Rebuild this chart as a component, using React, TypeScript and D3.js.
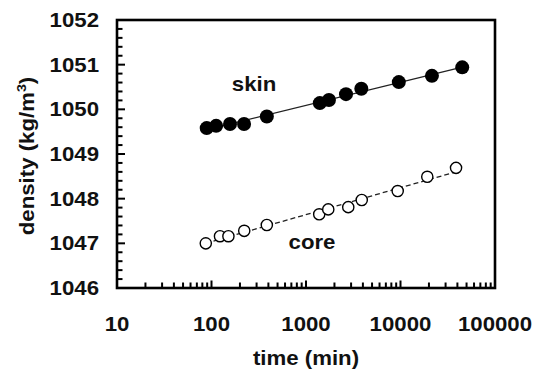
import React from "react";
import * as d3 from "d3";

const skinTime = [89, 112, 157, 221, 385, 1400, 1750, 2650, 3850, 9600, 21500, 45000];
const skinDensity = [1049.58, 1049.63, 1049.67, 1049.67, 1049.84, 1050.14, 1050.21, 1050.34, 1050.46, 1050.61, 1050.75, 1050.94];
const coreTime = [87, 123, 151, 222, 385, 1380, 1720, 2800, 3890, 9340, 19200, 38700];
const coreDensity = [1047.0, 1047.16, 1047.16, 1047.28, 1047.41, 1047.65, 1047.76, 1047.81, 1047.97, 1048.17, 1048.49, 1048.69];
const xTicks = [10, 100, 1000, 10000, 100000];
const yTicks = [1046, 1047, 1048, 1049, 1050, 1051, 1052];
const xTitle = "time (min)";
const yTitle = "density (kg/m";
const skinLabel = "skin";
const coreLabel = "core";

const W = 535, H = 374;
const L = 117, R = 495, T = 20, B = 288;
const FONT = "'Liberation Sans', Arial, Helvetica, sans-serif";
const FS = 19.5;
const SX = 1.14;

function fit(xs: number[], ys: number[]) {
  const lx = xs.map((v) => Math.log10(v));
  const n = lx.length;
  const mx = d3.mean(lx)!;
  const my = d3.mean(ys)!;
  let sxy = 0, sxx = 0;
  for (let i = 0; i < n; i++) {
    sxy += (lx[i] - mx) * (ys[i] - my);
    sxx += (lx[i] - mx) ** 2;
  }
  const b = sxy / sxx;
  const a = my - b * mx;
  const x0 = d3.min(xs)!, x1 = d3.max(xs)!;
  return [
    [x0, a + b * Math.log10(x0)],
    [x1, a + b * Math.log10(x1)],
  ];
}

function T_({ x, y, anchor = "middle", children, rot = 0, size = FS }: any) {
  return (
    <text
      transform={`translate(${x},${y}) rotate(${rot}) scale(${SX},1)`}
      textAnchor={anchor}
      fontFamily={FONT}
      fontWeight="bold"
      fontSize={size}
      fill="#111"
    >
      {children}
    </text>
  );
}

export default function App() {
  const x = d3.scaleLog().domain([10, 100000]).range([L, R]);
  const y = d3.scaleLinear().domain([1046, 1052]).range([B, T]);
  const line = d3
    .line<number[]>()
    .x((d) => x(d[0]))
    .y((d) => y(d[1]));

  const skinFit = fit(skinTime, skinDensity);
  const coreFit = fit(coreTime, coreDensity);

  const xMinor: number[] = [];
  for (let dec = 10; dec < 100000; dec *= 10) {
    for (let k = 2; k <= 9; k++) xMinor.push(dec * k);
  }
  const yMinor: number[] = [];
  for (let v = 1046; v < 1052; v += 1) {
    for (let k = 1; k <= 4; k++) yMinor.push(v + k * 0.2);
  }

  return (
    <svg
      width={W}
      height={H}
      style={{ position: "absolute", left: 0, top: 0, background: "#fff" }}
    >
      <rect x={0} y={0} width={W} height={H} fill="#fff" />
      {/* trend lines */}
      <path d={line(skinFit)!} stroke="#222" strokeWidth={1.3} fill="none" />
      <path d={line(coreFit)!} stroke="#222" strokeWidth={1.3} strokeDasharray="5,3" fill="none" />
      {/* markers */}
      {skinTime.map((t, i) => (
        <circle key={"s" + i} cx={x(t)} cy={y(skinDensity[i])} r={7} fill="#000" />
      ))}
      {coreTime.map((t, i) => (
        <circle key={"c" + i} cx={x(t)} cy={y(coreDensity[i])} r={5.6} fill="#fff" stroke="#000" strokeWidth={1.4} />
      ))}
      {/* ticks */}
      {yMinor.map((v, i) => (
        <line key={"ym" + i} x1={L} x2={L + 5.5} y1={y(v)} y2={y(v)} stroke="#000" strokeWidth={2} />
      ))}
      {yTicks.map((v, i) => (
        <line key={"yM" + i} x1={L} x2={L + 8} y1={y(v)} y2={y(v)} stroke="#000" strokeWidth={2} />
      ))}
      {xMinor.map((v, i) => (
        <line key={"xm" + i} x1={x(v)} x2={x(v)} y1={B} y2={B - 5.5} stroke="#000" strokeWidth={2} />
      ))}
      {xTicks.map((v, i) => (
        <line key={"xM" + i} x1={x(v)} x2={x(v)} y1={B} y2={B - 7.5} stroke="#000" strokeWidth={2} />
      ))}
      {/* frame */}
      <rect x={L} y={T} width={R - L} height={B - T} fill="none" stroke="#000" strokeWidth={2.6} />
      {/* tick labels */}
      {yTicks.map((v, i) => (
        <T_ key={"yl" + i} x={99} y={y(v) + 7} anchor="end">
          {v}
        </T_>
      ))}
      {xTicks.map((v, i) => (
        <T_ key={"xl" + i} x={x(v)} y={330.5}>
          {v}
        </T_>
      ))}
      {/* titles */}
      <T_ x={(L + R) / 2} y={365}>{xTitle}</T_>
      <text
        transform={`translate(34,${(T + B) / 2 + 2}) rotate(-90) scale(${SX},1)`}
        textAnchor="middle"
        fontFamily={FONT}
        fontWeight="bold"
        fontSize={FS}
        fill="#111"
      >
        {yTitle}
        <tspan fontSize={12.5} dy={-8.5}>3</tspan>
        <tspan dy={8.5}>)</tspan>
      </text>
      <T_ x={254} y={90.7}>{skinLabel}</T_>
      <T_ x={312} y={249}>{coreLabel}</T_>
    </svg>
  );
}
